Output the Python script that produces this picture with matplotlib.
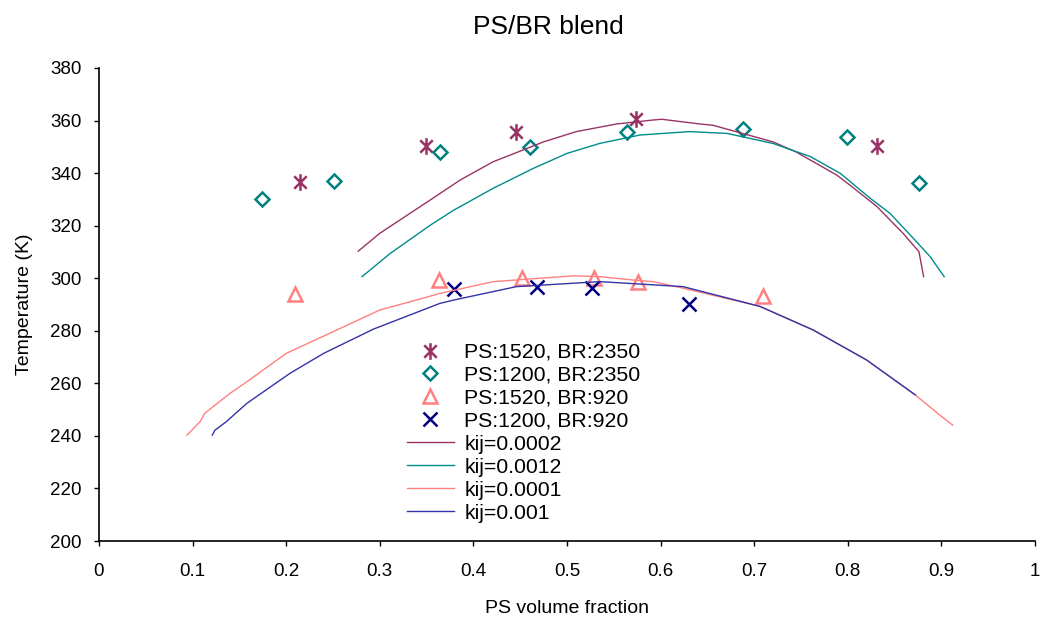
import matplotlib
matplotlib.use("Agg")
import matplotlib.pyplot as plt
from matplotlib.path import Path

plt.rcParams['font.family'] = ['Liberation Sans', 'DejaVu Sans']

# Measured cloud points
ps1520_br2350_x = [0.215, 0.349, 0.446, 0.574, 0.831]
ps1520_br2350_t = [336.7, 350.4, 355.8, 360.5, 350.4]

ps1200_br2350_x = [0.174, 0.251, 0.364, 0.461, 0.564, 0.688, 0.799, 0.876]
ps1200_br2350_t = [330.0, 336.9, 348.1, 349.8, 355.8, 356.7, 353.6, 336.1]

ps1520_br920_x = [0.209, 0.363, 0.452, 0.529, 0.576, 0.709]
ps1520_br920_t = [294.0, 299.3, 300.2, 300.2, 298.7, 293.2]

ps1200_br920_x = [0.379, 0.468, 0.527, 0.630]
ps1200_br920_t = [295.8, 296.7, 296.1, 290.1]

# Calculated binodal curves
kij_0002_x = [0.277, 0.300, 0.354, 0.386, 0.421, 0.475, 0.510, 0.553, 0.589, 0.601,
              0.642, 0.656, 0.720, 0.745, 0.788, 0.802, 0.831, 0.859, 0.876, 0.881]
kij_0002_t = [310.3, 317.1, 329.8, 337.4, 344.3, 351.9, 355.8, 358.7, 360.1, 360.5,
              358.7, 358.2, 351.9, 348.0, 339.3, 335.5, 327.3, 317.1, 310.1, 300.6]

kij_0012_x = [0.281, 0.311, 0.354, 0.379, 0.421, 0.464, 0.500, 0.535, 0.578, 0.631,
              0.671, 0.720, 0.760, 0.792, 0.824, 0.845, 0.870, 0.888, 0.903]
kij_0012_t = [300.6, 309.4, 320.2, 325.9, 334.2, 341.8, 347.5, 351.3, 354.5, 355.8,
              355.1, 351.3, 346.3, 339.9, 330.4, 324.7, 315.2, 308.2, 300.6]

kij_0001_x = [0.094, 0.108, 0.113, 0.140, 0.158, 0.200, 0.254, 0.300, 0.339, 0.364,
              0.421, 0.507, 0.535, 0.571, 0.592, 0.624, 0.706, 0.763, 0.820, 0.870,
              0.898, 0.912]
kij_0001_t = [240.3, 245.4, 248.6, 256.2, 260.6, 271.4, 280.3, 287.9, 291.7, 294.2,
              298.7, 300.9, 300.6, 299.3, 298.7, 296.2, 289.3, 280.3, 268.9, 256.2,
              248.0, 244.1]

kij_001_x = [0.121, 0.124, 0.136, 0.158, 0.204, 0.240, 0.293, 0.364, 0.379, 0.446,
             0.535, 0.624, 0.706, 0.763, 0.820, 0.872]
kij_001_t = [240.3, 242.2, 245.4, 252.4, 263.8, 271.4, 280.6, 290.4, 291.7, 296.8,
             298.7, 296.8, 289.3, 280.3, 268.9, 255.6]

x_ticks = [0, 0.1, 0.2, 0.3, 0.4, 0.5, 0.6, 0.7, 0.8, 0.9, 1]
x_tick_labels = ['0', '0.1', '0.2', '0.3', '0.4', '0.5', '0.6', '0.7', '0.8', '0.9', '1']
y_ticks = [200, 220, 240, 260, 280, 300, 320, 340, 360, 380]

# Asterisk marker: vertical bar plus diagonal cross
star = Path([(0, -1), (0, 1), (-0.75, -0.75), (0.75, 0.75), (-0.75, 0.75), (0.75, -0.75)],
            [Path.MOVETO, Path.LINETO, Path.MOVETO, Path.LINETO, Path.MOVETO, Path.LINETO])

fig = plt.figure(figsize=(10.43, 6.21), dpi=100)
ax = fig.add_axes([99 / 1043, 1 - 541 / 621, (1035 - 99) / 1043, (541 - 68) / 621])

ax.plot(ps1520_br2350_x, ps1520_br2350_t, linestyle='none', marker=star, markersize=12,
        mec='#993366', mfc='none', mew=1.8, label='PS:1520, BR:2350')
ax.plot(ps1200_br2350_x, ps1200_br2350_t, linestyle='none', marker='D', markersize=7.5,
        mec='#008080', mfc='none', mew=1.8, label='PS:1200, BR:2350')
ax.plot(ps1520_br920_x, ps1520_br920_t, linestyle='none', marker='^', markersize=10.5,
        mec='#FF8080', mfc='none', mew=1.8, label='PS:1520, BR:920')
ax.plot(ps1200_br920_x, ps1200_br920_t, linestyle='none', marker='x', markersize=9.5,
        mec='#000080', mew=1.8, label='PS:1200, BR:920')

ax.plot(kij_0002_x, kij_0002_t, color='#993366', lw=1.0, label='kij=0.0002')
ax.plot(kij_0012_x, kij_0012_t, color='#008B8B', lw=1.0, label='kij=0.0012')
ax.plot(kij_0001_x, kij_0001_t, color='#FF8080', lw=1.0, label='kij=0.0001')
ax.plot(kij_001_x, kij_001_t, color='#3333AA', lw=1.0, label='kij=0.001')

ax.set_xlim(0, 1)
ax.set_ylim(200, 380)
ax.set_xticks(x_ticks)
ax.set_xticklabels(x_tick_labels)
ax.set_yticks(y_ticks)
ax.tick_params(direction='out', length=3.5, width=1, labelsize=13.5, colors='black')
ax.tick_params(axis='x', pad=12)
ax.tick_params(axis='y', pad=9)
for side in ('top', 'right'):
    ax.spines[side].set_visible(False)
for side in ('left', 'bottom'):
    ax.spines[side].set_linewidth(1.2)

ax.set_xlabel('PS volume fraction', fontsize=14, labelpad=15)
ax.set_ylabel('Temperature (K)', fontsize=14, labelpad=12)
fig.text(548 / 1043, 1 - 27 / 621, 'PS/BR blend', ha='center', va='center', fontsize=19)

leg = ax.legend(loc='upper left', bbox_to_anchor=(407 / 1043, 1 - 343 / 621),
                bbox_transform=fig.transFigure, frameon=False, fontsize=15.3,
                handlelength=2.2, handletextpad=0.5, labelspacing=0.185,
                borderpad=0, borderaxespad=0)

fig.savefig('out.png', dpi=100)
